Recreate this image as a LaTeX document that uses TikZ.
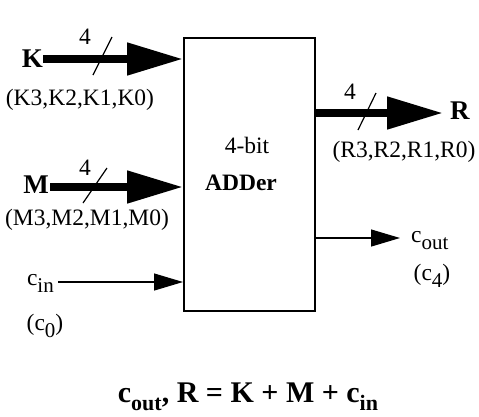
\documentclass[tikz,border=0pt]{standalone}
\usepackage{fontspec}
\setmainfont{Liberation Serif}
\usetikzlibrary{arrows.meta}
\newcommand{\mysub}[1]{\raisebox{-0.3em}{\fontsize{21}{23}\selectfont #1}}
\newcommand{\eqsub}[1]{\raisebox{-0.28em}{\fontsize{22}{24}\selectfont\bfseries #1}}
\begin{document}
\begin{tikzpicture}[x=1pt,y=-1pt,
  lbl/.style={inner sep=0pt, font=\fontsize{23.5}{25}\selectfont},
  big/.style={inner sep=0pt, font=\fontsize{27}{29}\selectfont\bfseries},
  bus/.style={line width=8pt, -{Triangle[length=56pt 0 0,width=31pt 0 0]}},
  sig/.style={line width=1.2pt, -{Triangle[length=29pt 0 0,width=17pt 0 0]}},
  tick/.style={line width=1.2pt}]
\useasboundingbox (0,0) rectangle (479,416);
% adder box
\node[draw, line width=1.6pt, minimum width=131pt, minimum height=273pt, anchor=north west, inner sep=0pt] (add) at (183,37) {};
\node[lbl] (bit) at (247,145) {4-bit};
\node[lbl, font=\fontsize{23.5}{25}\selectfont\bfseries] (adder) at (241,183) {ADDer};
% K input
\node[big, anchor=east] (K) at (43,59) {K};
\draw[bus] (K.east) -- (K.east -| add.west);
\coordinate (ka) at (93,75); \coordinate (kb) at (112,37);
\draw[tick] (ka) -- (kb);
\node[lbl] (k4) at (85,37) {4};
\node[lbl] (kbits) at (80,100) {(K3,K2,K1,K0)};
% M input
\node[big, anchor=east] (M) at (49,185) {M};
\draw[bus] (M.east |- 0,187) ++(1pt,0) coordinate (ms) (ms) -- (ms -| add.west);
\coordinate (ma) at (83,203); \coordinate (mb) at (107,168);
\draw[tick] (ma) -- (mb);
\node[lbl] (m4) at (85,168) {4};
\node[lbl] (mbits) at (87,220) {(M3,M2,M1,M0)};
% cin
\node[lbl, anchor=base east] (cin) at (54,285) {c\mysub{in}};
\draw[sig] (cin.east |- 0,282) ++(4pt,0) coordinate (cs) (cs) -- (cs -| add.west);
\node[lbl] (c0) at (45,326) {(c\mysub{0})};
% R output
\coordinate (rs) at (add.east |- 0,113);
\node[big, anchor=west] (R) at (450,111) {R};
\draw[bus] (rs) -- (443,113) coordinate (re);
\coordinate (ra) at (358,130); \coordinate (rb) at (376,93);
\draw[tick] (ra) -- (rb);
\node[lbl] (r4) at (350,92) {4};
\node[lbl] (rbits) at (404,152) {(R3,R2,R1,R0)};
% cout
\coordinate (cos) at (add.east |- 0,238);
\node[lbl, anchor=base west] (cout) at (411,242) {c\mysub{out}};
\draw[sig] (cos) -- (400,238) coordinate (coe);
\node[lbl] (c4) at (432,276) {(c\mysub{4})};
% equation
\node[inner sep=0pt, anchor=base, font=\fontsize{30}{32}\selectfont\bfseries] (eq) at (248,402) {c\eqsub{out}, R = K + M + c\eqsub{in}};
\end{tikzpicture}
\end{document}
